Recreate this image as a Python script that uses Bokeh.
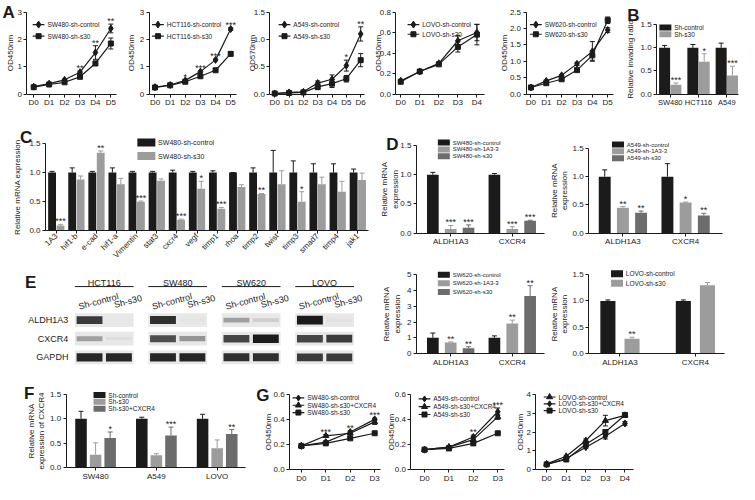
import math
from bokeh.plotting import figure
from bokeh.layouts import row, column
from bokeh.models import ColumnDataSource, Range1d, FixedTicker, PrintfTickFormatter, Spacer
from bokeh.core.properties import value
from bokeh.embed import file_html
from bokeh.resources import INLINE

FONT = "Liberation Sans"
INK = "#1b1b1b"
LIGHT = "#9c9c9c"
DARK = "#6c6c6c"

# ---------------- data ----------------
days4 = ["D0", "D1", "D2", "D3"]
days5 = ["D0", "D1", "D2", "D3", "D4"]
days6 = ["D0", "D1", "D2", "D3", "D4", "D5"]
days7 = ["D0", "D1", "D2", "D3", "D4", "D5", "D6"]

# A - SW480
a1_ctrl = [0.27, 0.38, 0.52, 0.80, 1.52, 2.40]
a1_ctrl_err = [0.02, 0.03, 0.03, 0.04, 0.25, 0.16]
a1_s30 = [0.25, 0.35, 0.43, 0.63, 1.12, 1.85]
a1_s30_err = [0.02, 0.02, 0.03, 0.04, 0.08, 0.20]
a1_stars = ["", "", "", "**", "**", "**"]
# A - HCT116
a2_ctrl = [0.25, 0.33, 0.50, 0.82, 1.25, 2.38]
a2_ctrl_err = [0.02, 0.02, 0.03, 0.03, 0.03, 0.05]
a2_s30 = [0.24, 0.32, 0.45, 0.65, 0.87, 1.47]
a2_s30_err = [0.02, 0.02, 0.03, 0.03, 0.03, 0.08]
a2_stars = ["", "", "*", "***", "***", "***"]
# A - A549
a3_ctrl = [0.01, 0.03, 0.04, 0.20, 0.27, 0.52, 1.10]
a3_ctrl_err = [0.01, 0.01, 0.01, 0.04, 0.08, 0.10, 0.13]
a3_s30 = [0.01, 0.02, 0.03, 0.13, 0.19, 0.28, 0.62]
a3_s30_err = [0.01, 0.01, 0.01, 0.05, 0.07, 0.06, 0.12]
a3_stars = ["", "", "", "", "", "*", "**"]
# A - LOVO
a4_ctrl = [0.13, 0.22, 0.30, 0.52, 0.60]
a4_ctrl_err = [0.01, 0.01, 0.01, 0.05, 0.08]
a4_s30 = [0.12, 0.22, 0.29, 0.46, 0.58]
a4_s30_err = [0.01, 0.01, 0.01, 0.05, 0.10]
a4_stars = ["", "", "", "", ""]
# A - SW620
a5_ctrl = [0.20, 0.40, 0.57, 0.92, 1.30, 1.95]
a5_ctrl_err = [0.02, 0.03, 0.03, 0.05, 0.30, 0.07]
a5_s30 = [0.20, 0.33, 0.45, 0.73, 1.18, 2.25]
a5_s30_err = [0.02, 0.03, 0.03, 0.05, 0.15, 0.10]
a5_stars = ["", "", "", "", "", ""]

# B
b_cells = ["SW480", "HCT116", "A549"]
b_ctrl = [1.0, 1.0, 1.0]
b_ctrl_err = [0.05, 0.07, 0.10]
b_s30 = [0.20, 0.70, 0.40]
b_s30_err = [0.04, 0.17, 0.20]
b_stars = ["***", "*", "***"]

# C
c_genes = ["1A3", "hif1-b", "e-cad", "hif1-a", "Vimentin", "stat3", "cxcr4", "vegf",
           "timp1", "rhoa", "timp2", "twist", "timp3", "smad7", "timp4", "jak1"]
c_ctrl = [1.0] * 16
c_ctrl_err = [0.02, 0.08, 0.02, 0.08, 0.02, 0.02, 0.04, 0.02,
              0.03, 0.00, 0.08, 0.38, 0.20, 0.15, 0.15, 0.06]
c_s30 = [0.09, 0.88, 1.34, 0.80, 0.50, 0.86, 0.19, 0.72,
         0.38, 0.75, 0.63, 0.80, 0.50, 0.80, 0.67, 0.87]
c_s30_err = [0.02, 0.06, 0.03, 0.10, 0.01, 0.03, 0.01, 0.13,
             0.02, 0.04, 0.01, 0.23, 0.17, 0.12, 0.18, 0.12]
c_stars = ["***", "", "**", "", "***", "", "***", "*",
           "***", "", "**", "", "*", "", "", ""]

# D
d_genes = ["ALDH1A3", "CXCR4"]
d1_ctrl, d1_ctrl_err = [1.0, 1.0], [0.04, 0.02]
d1_kd, d1_kd_err = [0.07, 0.07], [0.06, 0.04]
d1_s30, d1_s30_err = [0.09, 0.21], [0.05, 0.01]
d1_kd_stars, d1_s30_stars = ["***", "***"], ["***", "***"]

d2_ctrl, d2_ctrl_err = [1.0, 1.0], [0.12, 0.23]
d2_kd, d2_kd_err = [0.45, 0.54], [0.02, 0.01]
d2_s30, d2_s30_err = [0.36, 0.31], [0.03, 0.04]
d2_kd_stars, d2_s30_stars = ["**", "*"], ["**", "**"]

d3_ctrl, d3_ctrl_err = [1.0, 1.0], [0.30, 0.12]
d3_kd, d3_kd_err = [0.70, 1.90], [0.04, 0.22]
d3_s30, d3_s30_err = [0.33, 3.65], [0.10, 0.65]
d3_kd_stars, d3_s30_stars = ["**", "**"], ["**", "**"]

d4_ctrl, d4_ctrl_err = [1.0, 1.0], [0.02, 0.02]
d4_s30, d4_s30_err = [0.28, 1.30], [0.03, 0.05]
d4_s30_stars = ["**", ""]

# E - western blot band intensities (lanes: Sh-control, Sh-s30 per cell line)
blot_cells = ["HCT116", "SW480", "SW620", "LOVO"]
blot_lanes = ["Sh-control", "Sh-s30"]
blot_proteins = ["ALDH1A3", "CXCR4", "GAPDH"]
band_aldh1a3 = [0.85, 0.00, 0.90, 0.02, 0.35, 0.12, 1.00, 0.03]
band_cxcr4 = [0.35, 0.05, 0.75, 0.40, 0.80, 1.00, 0.80, 0.85]
band_gapdh = [0.95, 0.95, 0.95, 0.95, 0.90, 0.90, 0.85, 0.85]

# F
f_cells = ["SW480", "A549", "LOVO"]
f_ctrl, f_ctrl_err = [1.0, 1.0, 1.0], [0.15, 0.03, 0.09]
f_s30, f_s30_err = [0.27, 0.26, 0.40], [0.24, 0.03, 0.17]
f_res, f_res_err = [0.61, 0.66, 0.69], [0.12, 0.17, 0.09]
f_stars = ["*", "***", "**"]

# G
g1_ctrl, g1_ctrl_err = [0.19, 0.22, 0.30, 0.40], [0.005, 0.01, 0.01, 0.01]
g1_res, g1_res_err = [0.19, 0.27, 0.29, 0.38], [0.005, 0.01, 0.01, 0.02]
g1_s30, g1_s30_err = [0.19, 0.21, 0.25, 0.29], [0.005, 0.01, 0.01, 0.005]
g1_stars = ["", "***", "**", "***"]

g2_ctrl, g2_ctrl_err = [0.16, 0.18, 0.26, 0.46], [0.005, 0.01, 0.015, 0.03]
g2_res, g2_res_err = [0.16, 0.18, 0.24, 0.42], [0.005, 0.01, 0.02, 0.02]
g2_s30, g2_s30_err = [0.16, 0.17, 0.21, 0.29], [0.005, 0.005, 0.01, 0.005]
g2_stars = ["", "", "**", "***"]

g3_ctrl, g3_ctrl_err = [0.32, 0.72, 1.55, 2.60, 2.88], [0.03, 0.05, 0.08, 0.28, 0.08]
g3_res, g3_res_err = [0.30, 0.60, 1.20, 1.78, 2.45], [0.03, 0.05, 0.06, 0.15, 0.10]
g3_s30, g3_s30_err = [0.29, 0.55, 1.35, 2.00, 2.90], [0.03, 0.04, 0.10, 0.10, 0.06]
g3_stars = ["", "", "", "", ""]

# ---------------- layout helpers ----------------
SX = 739 / 755
SY = 484 / 500


def sx(v):
    return round(v * SX)


def sy(v):
    return round(v * SY)


class Panel:
    """A figure whose frame fills its whole canvas; positions given in reference pixels."""

    def __init__(self, x0, x1, y0, y1, xcal, ycal):
        da, pa, db, pb = xcal
        ux = (db - da) / (pb - pa)
        xs = da - (pa - x0) * ux
        xe = da + (x1 - pa) * ux
        ymax, yt, yz = ycal
        uy = ymax / (yz - yt)
        ys = -(y1 - yz) * uy
        ye = ymax + (yt - y0) * uy
        self.x0, self.y0, self.ux, self.uy, self.xs, self.ye, self.ymax = x0, y0, ux, uy, xs, ye, ymax
        p = figure(width=sx(x1) - sx(x0), height=sy(y1) - sy(y0),
                   x_range=Range1d(xs, xe), y_range=Range1d(ys, ye),
                   output_backend="svg", toolbar_location=None, title=None, min_border=0)
        p.outline_line_color = None
        p.grid.visible = False
        p.background_fill_color = "white"
        p.border_fill_color = "white"
        self.p = p

    def X(self, px):
        return self.xs + (px - self.x0) * self.ux

    def Y(self, py):
        return self.ye - (py - self.y0) * self.uy

    def axes(self, xa, xe, yticks, fmt, ylabel, lx, xticks, xlabels, xfont="8px"):
        p = self.p
        for ax in p.axis:
            ax.axis_line_color = INK
            ax.axis_line_width = 1
            ax.major_tick_line_color = INK
            ax.major_tick_out = 3
            ax.major_tick_in = 0
            ax.minor_tick_line_color = None
            ax.major_label_text_font = FONT
            ax.major_label_text_font_size = "8px"
            ax.major_label_text_color = INK
            ax.major_label_standoff = 2
        p.yaxis.fixed_location = self.X(xa)
        p.yaxis.bounds = (0, self.ymax)
        p.yaxis.ticker = FixedTicker(ticks=yticks)
        p.yaxis.formatter = PrintfTickFormatter(format=fmt)
        p.xaxis.fixed_location = 0
        p.xaxis.bounds = (self.X(xa), self.X(xe))
        p.xaxis.ticker = FixedTicker(ticks=xticks)
        p.xaxis.major_label_overrides = {t: lab for t, lab in zip(xticks, xlabels)}
        p.xaxis.major_label_text_font_size = xfont
        p.xaxis.major_label_standoff = 1
        # y-axis title, rotated, centred on the axis extent
        p.text(x=[self.X(lx)], y=[self.ymax / 2], text=[ylabel], text_font=value(FONT),
               text_font_size="8px", text_color=INK, text_align="center",
               text_baseline="middle", angle=math.pi / 2, text_line_height=1.15)

    def letter(self, txt, px, py):
        self.p.text(x=[self.X(px)], y=[self.Y(py)], text=[txt], text_font=value(FONT),
                    text_font_size="17px", text_font_style="bold", text_color=INK,
                    text_align="left", text_baseline="top")

    def legend_lines(self, px, py, dy, entries, font="6.5px", gw=12):
        for k, (lab, marker, ms) in enumerate(entries):
            yy = self.Y(py + k * dy)
            self.p.segment([self.X(px)], [yy], [self.X(px + gw)], [yy], line_color=INK, line_width=1.2)
            self.p.scatter([self.X(px + gw / 2)], [yy], marker=marker, size=ms,
                           fill_color=INK, line_color=INK)
            self.p.text([self.X(px + gw + 3)], [yy], text=[lab], text_font=value(FONT),
                        text_font_size=font, text_color=INK, text_baseline="middle")

    def legend_boxes(self, px, py, dy, entries, font="7px", gw=12, gh=6):
        for k, (lab, color) in enumerate(entries):
            yy = self.Y(py + k * dy)
            self.p.rect([self.X(px + gw / 2)], [yy], width=sx(gw), height=sy(gh),
                        width_units="screen", height_units="screen",
                        fill_color=color, line_color=None)
            self.p.text([self.X(px + gw + 3)], [yy], text=[lab], text_font=value(FONT),
                        text_font_size=font, text_color=INK, text_baseline="middle")


def star_text(p, xs, ys, stars, **kw):
    p.text(x=xs, y=ys, text=stars, text_font=value(FONT), text_font_size="9px",
           text_color=INK, text_align="center", text_baseline="bottom", y_offset=2, **kw)


def line_panel(box, xcal, ycal, xa, xe, days, series, yticks, fmt, ylabel, lx, stars):
    pn = Panel(*box, xcal, ycal)
    p = pn.p
    n = len(days)
    xs = list(range(n))
    tops = [0] * n
    for lab, ys, es, marker, ms in series:
        lo = [y - e for y, e in zip(ys, es)]
        hi = [y + e for y, e in zip(ys, es)]
        tops = [max(a, b) for a, b in zip(tops, hi)]
        p.segment(xs, lo, xs, hi, line_color=INK, line_width=1)
        p.scatter(xs + xs, lo + hi, marker="dash", size=5, line_color=INK, line_width=1)
        p.line(xs, ys, line_color=INK, line_width=1.2)
        p.scatter(xs, ys, marker=marker, size=ms, fill_color=INK, line_color=INK)
    star_text(p, xs, tops, stars)
    pn.axes(xa, xe, yticks, fmt, ylabel, lx, xs, days)
    return pn


def bar_panel(box, xcal, ycal, xa, xe, cats, groups, width, offsets, yticks, fmt, ylabel, lx,
              xfont="8px", cap=5):
    pn = Panel(*box, xcal, ycal)
    p = pn.p
    idx = list(range(len(cats)))
    for (lab, vals, errs, stars, color), off in zip(groups, offsets):
        xpos = [i + off for i in idx]
        src = ColumnDataSource(dict(x=xpos, top=vals,
                                    etop=[v + e for v, e in zip(vals, errs)], star=stars))
        p.segment(x0="x", y0="top", x1="x", y1="etop", line_color=color, line_width=1, source=src)
        p.scatter(x="x", y="etop", marker="dash", size=cap, line_color=color, line_width=1, source=src)
        p.vbar(x="x", top="top", width=width, fill_color=color, line_color=None, source=src)
        star_text(p, "x", "etop", "star", source=src)
    pn.axes(xa, xe, yticks, fmt, ylabel, lx, idx, cats, xfont=xfont)
    return pn


# ---------------- row 1 : A & B ----------------
A_Y = (0, 112)
a1 = line_panel((0, 128) + A_Y, (0, 34, 5, 113), (3, 12, 97), 27, 119, days6,
                [("SW480-sh-control", a1_ctrl, a1_ctrl_err, "diamond", 7),
                 ("SW480-sh-s30", a1_s30, a1_s30_err, "square", 5)],
                [0, 1, 2, 3], "%d", "OD450nm", 10, a1_stars)
a1.legend_lines(33, 25, 12, [("SW480-sh-control", "diamond", 7), ("SW480-sh-s30", "square", 5)])
a1.letter("A", 2, 3)

a2 = line_panel((128, 247) + A_Y, (0, 158, 5, 235), (3, 12, 97), 152, 241, days6,
                [("HCT116-sh-control", a2_ctrl, a2_ctrl_err, "diamond", 7),
                 ("HCT116-sh-s30", a2_s30, a2_s30_err, "square", 5)],
                [0, 1, 2, 3], "%d", "OD450nm", 134, a2_stars)
a2.legend_lines(155, 25, 12, [("HCT116-sh-control", "diamond", 7), ("HCT116-sh-s30", "square", 5)])

a3 = line_panel((247, 376) + A_Y, (0, 280, 6, 368), (1.5, 12, 97), 275, 372, days7,
                [("A549-sh-control", a3_ctrl, a3_ctrl_err, "diamond", 7),
                 ("A549-sh-s30", a3_s30, a3_s30_err, "square", 5)],
                [0, 0.5, 1.0, 1.5], "%.1f", "OD570nm", 257, a3_stars)
a3.legend_lines(284, 25, 12, [("A549-sh-control", "diamond", 7), ("A549-sh-s30", "square", 5)])

a4 = line_panel((376, 505) + A_Y, (0, 409, 4, 487), (0.8, 12, 97), 404, 495, days5,
                [("LOVO-sh-control", a4_ctrl, a4_ctrl_err, "diamond", 7),
                 ("LOVO-sh-s30", a4_s30, a4_s30_err, "square", 5)],
                [0, 0.2, 0.4, 0.6, 0.8], "%.1f", "OD450nm", 386, a4_stars)
a4.legend_lines(416, 25, 10, [("LOVO-sh-control", "diamond", 7), ("LOVO-sh-s30", "square", 5)])

a5 = line_panel((505, 633) + A_Y, (0, 542, 5, 620), (2.5, 12, 97), 537, 626, days6,
                [("SW620-sh-control", a5_ctrl, a5_ctrl_err, "diamond", 7),
                 ("SW620-sh-s30", a5_s30, a5_s30_err, "square", 5)],
                [0, 0.5, 1.0, 1.5, 2.0, 2.5], "%.1f", "OD450nm", 515, a5_stars)
a5.legend_lines(541, 25, 10, [("SW620-sh-control", "diamond", 7), ("SW620-sh-s30", "square", 5)])

b = bar_panel((633, 755) + A_Y, (0, 684, 2, 742), (1.5, 25, 97), 670, 754, b_cells,
              [("Sh-control", b_ctrl, b_ctrl_err, [""] * 3, INK),
               ("Sh-s30", b_s30, b_s30_err, b_stars, LIGHT)],
              0.39, [-0.2, 0.2], [0, 0.5, 1.0, 1.5], "%.1f", "Relative invading ratio", 643,
              xfont="7.5px")
b.legend_boxes(673, 28, 7, [("Sh-control", INK), ("Sh-s30", LIGHT)], font="6.5px", gw=12, gh=6)
b.letter("B", 640, 6)

# ---------------- C ----------------
c = bar_panel((0, 380, 112, 280), (0, 57, 15, 365), (1.5, 148, 238), 46, 376, c_genes,
              [("SW480-sh-control", c_ctrl, c_ctrl_err, [""] * 16, INK),
               ("SW480-sh-s30", c_s30, c_s30_err, c_stars, LIGHT)],
              0.39, [-0.21, 0.21], [0, 0.5, 1.0, 1.5], "%.1f", "Relative mRNA expression", 17)
c.p.xaxis.major_label_orientation = 0.785
c.legend_boxes(140, 147, 14, [("SW480-sh-control", INK), ("SW480-sh-s30", LIGHT)],
               font="7px", gw=18, gh=8)
c.letter("C", 20, 132)

# ---------------- E (western blot) ----------------
pitch = 2.5
e = figure(width=sx(380) - sx(0), height=sy(392) - sy(280),
           x_range=Range1d(-2.53, 10.13), y_range=Range1d(-1.19, 4.61),
           output_backend="svg", toolbar_location=None, title=None,
           x_axis_type=None, y_axis_type=None, min_border=0)
e.outline_line_color = None
e.grid.visible = False
nprot = len(blot_proteins)
box_x, box_y, band_x, band_y, band_a, band_h = [], [], [], [], [], []
bands = [band_aldh1a3, band_cxcr4, band_gapdh]
for k, prot in enumerate(blot_proteins):
    yk = nprot - 1 - k
    for i, cell in enumerate(blot_cells):
        box_x.append(i * pitch + 1)
        box_y.append(yk)
        for j, lane in enumerate(blot_lanes):
            inten = bands[k][i * len(blot_lanes) + j]
            band_x.append(i * pitch + j + 0.5)
            band_y.append(yk)
            band_a.append(inten)
            band_h.append(0.16 + 0.3 * inten)
e.rect(box_x, box_y, width=2.0, height=0.74, fill_color="#e8e8e8", line_color=None)
e.rect(band_x, band_y, width=0.88, height=band_h, fill_color=INK, fill_alpha=band_a, line_color=None)
e.text(x=[-0.22] * nprot, y=[nprot - 1 - k for k in range(nprot)], text=blot_proteins,
       text_font=value(FONT), text_font_size="9px", text_color=INK,
       text_align="right", text_baseline="middle")
cell_x = [i * pitch + 1 for i in range(len(blot_cells))]
e.text(x=cell_x, y=[nprot + 1] * len(blot_cells), text=blot_cells, text_font=value(FONT),
       text_font_size="9px", text_color=INK, text_align="center", text_baseline="middle")
e.segment(x0=[i * pitch for i in range(len(blot_cells))], y0=[nprot + 0.8] * len(blot_cells),
          x1=[i * pitch + 2 for i in range(len(blot_cells))], y1=[nprot + 0.8] * len(blot_cells),
          line_color=INK, line_width=1)
lane_x, lane_t = [], []
for i in range(len(blot_cells)):
    for j, lane in enumerate(blot_lanes):
        lane_x.append(i * pitch + j + 0.5)
        lane_t.append(lane)
e.text(x=lane_x, y=[nprot] * len(lane_x), text=lane_t, text_font=value(FONT),
       text_font_size="9px", text_color=INK, text_align="center", text_baseline="middle",
       angle=0.26, x_offset=9)
e.text(x=[-1.7], y=[4.55], text=["E"], text_font=value(FONT), text_font_size="17px",
       text_font_style="bold", text_color=INK, text_align="left", text_baseline="top")

# ---------------- D ----------------
d1 = bar_panel((380, 557, 112, 262), (0, 460, 1, 523), (1.5, 150, 240), 425, 556, d_genes,
               [("SW480-sh-control", d1_ctrl, d1_ctrl_err, ["", ""], INK),
                ("SW480-sh-1A3-3", d1_kd, d1_kd_err, d1_kd_stars, LIGHT),
                ("SW480-sh-s30", d1_s30, d1_s30_err, d1_s30_stars, DARK)],
               0.19, [-0.29, 0, 0.29], [0, 0.5, 1.0, 1.5], "%.1f", "Relative mRNA\nexpression", 398)
d1.legend_boxes(447, 147, 7, [("SW480-sh-control", INK), ("SW480-sh-1A3-3", LIGHT),
                              ("SW480-sh-s30", DARK)], font="6px", gw=12, gh=6)
d1.letter("D", 394, 139)

d2 = bar_panel((557, 755, 112, 262), (0, 636, 1, 700), (1.5, 153, 240), 601, 738, d_genes,
               [("A549-sh-control", d2_ctrl, d2_ctrl_err, ["", ""], INK),
                ("A549-sh-1A3-3", d2_kd, d2_kd_err, d2_kd_stars, LIGHT),
                ("A549-sh-s30", d2_s30, d2_s30_err, d2_s30_stars, DARK)],
               0.19, [-0.29, 0, 0.29], [0, 0.5, 1.0, 1.5], "%.1f", "Relative mRNA\nexpression", 571)
d2.legend_boxes(625, 149, 7, [("A549-sh-control", INK), ("A549-sh-1A3-3", LIGHT),
                              ("A549-sh-s30", DARK)], font="6px", gw=12, gh=6)

d3 = bar_panel((380, 557, 262, 392), (0, 460, 1, 523), (5, 283, 365), 425, 556, d_genes,
               [("SW620-sh-control", d3_ctrl, d3_ctrl_err, ["", ""], INK),
                ("SW620-sh-1A3-3", d3_kd, d3_kd_err, d3_kd_stars, LIGHT),
                ("SW620-sh-s30", d3_s30, d3_s30_err, d3_s30_stars, DARK)],
               0.19, [-0.29, 0, 0.29], [0, 1, 2, 3, 4, 5], "%d", "Relative mRNA\nexpression", 400)
d3.legend_boxes(447, 283, 9, [("SW620-sh-control", INK), ("SW620-sh-1A3-3", LIGHT),
                              ("SW620-sh-s30", DARK)], font="6px", gw=12, gh=6)

d4 = bar_panel((557, 755, 262, 392), (0, 633, 1, 710), (1.5, 283, 365), 601, 740, d_genes,
               [("LOVO-sh-control", d4_ctrl, d4_ctrl_err, ["", ""], INK),
                ("LOVO-sh-s30", d4_s30, d4_s30_err, d4_s30_stars, LIGHT)],
               0.2, [-0.16, 0.16], [0, 0.5, 1.0, 1.5], "%.1f", "Relative mRNA\nexpression", 571)
d4.legend_boxes(624, 282, 10, [("LOVO-sh-control", INK), ("LOVO-sh-s30", LIGHT)],
                font="6.5px", gw=12, gh=7)

# ---------------- row 4 : F & G ----------------
R4 = (392, 500)
f = bar_panel((0, 255) + R4, (0, 97, 2, 221), (1.5, 407, 483), 67, 250, f_cells,
              [("Sh-control", f_ctrl, f_ctrl_err, ["", "", ""], INK),
               ("Sh-s30", f_s30, f_s30_err, ["", "", ""], LIGHT),
               ("Sh-s30+CXCR4", f_res, f_res_err, f_stars, DARK)],
              0.19, [-0.24, 0, 0.24], [0, 0.5, 1.0, 1.5], "%.1f",
              "Relative mRNA\nexpression of CXCR4", 37)
f.legend_boxes(95, 408, 7, [("Sh-control", INK), ("Sh-s30", LIGHT), ("Sh-s30+CXCR4", DARK)],
               font="6.5px", gw=12, gh=6)
f.letter("F", 24, 397)

g1 = line_panel((255, 390) + R4, (0, 307, 3, 382), (0.6, 407, 485), 295, 388, days4,
                [("SW480-sh-control", g1_ctrl, g1_ctrl_err, "diamond", 7),
                 ("SW480-sh-s30+CXCR4", g1_res, g1_res_err, "triangle", 6),
                 ("SW480-sh-s30", g1_s30, g1_s30_err, "square", 5)],
                [0, 0.2, 0.4, 0.6], "%.1f", "OD450nm", 273, g1_stars)
g1.legend_lines(298, 411, 7.5, [("SW480-sh-control", "diamond", 6),
                                ("SW480-sh-s30+CXCR4", "triangle", 6),
                                ("SW480-sh-s30", "square", 5)])
g1.letter("G", 261, 399)

g2 = line_panel((390, 519) + R4, (0, 433, 3, 508), (0.6, 407, 485), 419, 515, days4,
                [("A549-sh-control", g2_ctrl, g2_ctrl_err, "diamond", 7),
                 ("A549-sh-s30+CXCR4", g2_res, g2_res_err, "triangle", 6),
                 ("A549-sh-s30", g2_s30, g2_s30_err, "square", 5)],
                [0, 0.2, 0.4, 0.6], "%.1f", "OD450nm", 399, g2_stars)
g2.legend_lines(427, 412, 8, [("A549-sh-control", "diamond", 6),
                              ("A549-sh-s30+CXCR4", "triangle", 6),
                              ("A549-sh-s30", "square", 5)])

g3 = line_panel((519, 660) + R4, (0, 558, 4, 638), (4, 407, 485), 547, 647, days5,
                [("LOVO-sh-control", g3_ctrl, g3_ctrl_err, "triangle", 6),
                 ("LOVO-sh-s30+CXCR4", g3_res, g3_res_err, "diamond", 7),
                 ("LOVO-sh-s30", g3_s30, g3_s30_err, "square", 5)],
                [0, 1, 2, 3, 4], "%d", "OD450nm", 531, g3_stars)
g3.legend_lines(555, 410, 7, [("LOVO-sh-control", "triangle", 6),
                              ("LOVO-sh-s30+CXCR4", "diamond", 6),
                              ("LOVO-sh-s30", "square", 5)])

sp4 = Spacer(width=sx(755) - sx(660), height=sy(500) - sy(392))

layout = column(
    row(a1.p, a2.p, a3.p, a4.p, a5.p, b.p),
    row(column(c.p, e), column(row(d1.p, d2.p), row(d3.p, d4.p))),
    row(f.p, g1.p, g2.p, g3.p, sp4),
)

open("out.html", "w").write(file_html(layout, INLINE))
